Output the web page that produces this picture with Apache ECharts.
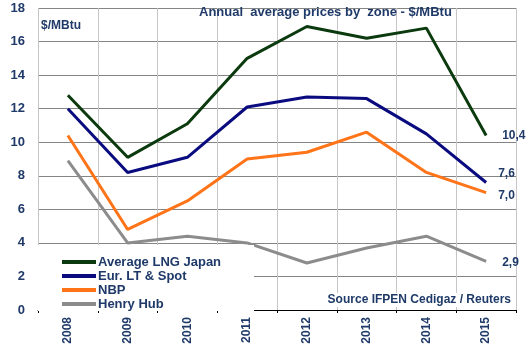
<!DOCTYPE html>
<html>
<head>
<meta charset="utf-8">
<script src="https://cdn.jsdelivr.net/npm/echarts@6/dist/echarts.min.js"></script>
<style>
  html, body { margin: 0; padding: 0; background: #fff; }
  #chart { width: 531px; height: 352px; }
</style>
</head>
<body>
<div id="chart"></div>
<script>
// data ($/MBtu)
var years = ['2008', '2009', '2010', '2011', '2012', '2013', '2014', '2015'];
var lngJapan = [12.8, 9.1, 11.1, 15.0, 16.9, 16.2, 16.8, 10.4];
var eurSpot = [12.0, 8.2, 9.1, 12.1, 12.7, 12.6, 10.5, 7.6];
var nbp = [10.4, 4.8, 6.5, 9.0, 9.4, 10.6, 8.2, 7.0];
var henryHub = [8.9, 4.0, 4.4, 4.0, 2.8, 3.7, 4.4, 2.9];

var txtColor = '#1F3A68';
var font = 'Arial, "Liberation Sans", sans-serif';

// libellé de fin, virgule décimale
function endLbl(offset) {
  return {
    show: true,
    offset: offset,
    color: txtColor,
    fontSize: 12,
    fontWeight: 'bold',
    fontFamily: font,
    formatter: function (p) { return p.value.toFixed(1).replace('.', ','); }
  };
}

function mkSeries(name, data, color, offset) {
  return {
    name: name,
    type: 'line',
    data: data,
    symbol: 'none',
    lineStyle: { color: color, width: 3 },
    itemStyle: { color: color },
    endLabel: endLbl(offset),
    animation: false
  };
}

var chart = echarts.init(document.getElementById('chart'));
chart.setOption({
  animation: false,
  title: {
    text: 'Annual  average prices by  zone - $/MBtu',
    left: 199, top: 6, padding: 0,
    textStyle: { color: txtColor, fontSize: 13, fontWeight: 'bold', fontFamily: font }
  },
  grid: { left: 38, right: 15, top: 8, bottom: 42 },
  legend: {
    orient: 'vertical',
    left: 38, top: 245,
    padding: [10, 33, 0, 24],
    backgroundColor: '#fff',
    itemGap: 0,
    itemWidth: 34, itemHeight: 4,
    icon: 'rect',
    textStyle: { color: txtColor, fontSize: 13, fontWeight: 'bold', fontFamily: font, padding: [0, 0, 0, -3], lineHeight: 14 },
    data: ['Average LNG Japan', 'Eur. LT & Spot', 'NBP', 'Henry Hub']
  },
  xAxis: {
    type: 'category',
    data: years,
    boundaryGap: true,
    axisLine: { lineStyle: { color: '#000', width: 1 } },
    axisTick: { show: true, length: 3, lineStyle: { color: '#000' } },
    axisLabel: { rotate: 90, margin: 7, color: txtColor, fontSize: 12, fontWeight: 'bold', fontFamily: font },
    splitLine: { show: true, lineStyle: { color: '#C6C6C6', width: 1 } }
  },
  yAxis: {
    type: 'value',
    min: 0, max: 18, interval: 2,
    axisLine: { show: false },
    axisTick: { show: false },
    axisLabel: { margin: 13, color: txtColor, fontSize: 13, fontWeight: 'bold', fontFamily: font },
    splitLine: { show: true, lineStyle: { color: '#858585', width: 1 } }
  },
  graphic: [
    {
      type: 'text', left: 41, top: 20, z: 10,
      style: { text: '$/MBtu', fill: txtColor, font: 'bold 12px ' + font }
    },
    {
      type: 'text', right: 18, top: 293, z: 10,
      style: {
        text: 'Source IFPEN Cedigaz / Reuters', fill: txtColor, font: 'bold 12px ' + font,
        backgroundColor: '#fff', padding: [1, 2, 1, 2]
      }
    }
  ],
  series: [
    mkSeries('Average LNG Japan', lngJapan, '#0B3A0E', [8, 0]),
    mkSeries('Eur. LT & Spot', eurSpot, '#0B0B80', [4, -9]),
    mkSeries('NBP', nbp, '#FF7418', [4, 3]),
    mkSeries('Henry Hub', henryHub, '#8C8C8C', [8, 1])
  ]
});
</script>
</body>
</html>
